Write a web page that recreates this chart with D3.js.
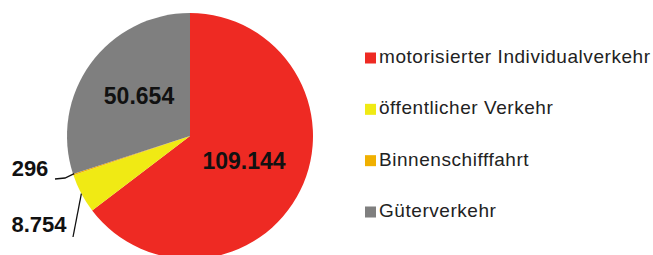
<!DOCTYPE html>
<html><head><meta charset="utf-8">
<script src="https://cdn.jsdelivr.net/npm/d3@7/dist/d3.min.js"></script>
<style>body{margin:0;background:#fff}svg{display:block}</style>
</head><body>
<script>
const categories = ["motorisierter Individualverkehr", "öffentlicher Verkehr", "Binnenschifffahrt", "Güterverkehr"];
const values = [109144, 8754, 296, 50654];
const valueLabels = ["109.144", "8.754", "296", "50.654"];
const colors = ["#ee2a23", "#f0ea14", "#f0b000", "#7f7f7f"];

const W = 653, H = 255;
const svg = d3.select("body").append("svg").attr("width", W).attr("height", H);
const cx = 190, cy = 136, R = 123;
const pie = d3.pie().sort(null).value(d => d)(values);
const arc = d3.arc().innerRadius(0).outerRadius(R);
const g = svg.append("g").attr("transform", `translate(${cx},${cy})`);
g.selectAll("path").data(pie).join("path").attr("d", arc).attr("fill", (d, i) => colors[i]);

const fontB = "Arial, 'Liberation Sans', sans-serif";
// inside labels
[0, 3].forEach(i => {
  const c = i === 0 ? [54, 27] : [-51, -38];
  g.append("text").attr("x", c[0]).attr("y", c[1]).attr("text-anchor", "middle")
    .attr("dominant-baseline", "middle").attr("font-family", fontB).attr("font-weight", "bold")
    .attr("font-size", 23).attr("fill", "#111").text(valueLabels[i]);
});
// outside labels with leaders
const edge = d3.arc().innerRadius(R).outerRadius(R);
const pOrange = edge.centroid(pie[2]);
const pYellow = edge.centroid(pie[1]);
svg.append("path").attr("d", d3.line()([[55, 179], [65, 178], [cx + pOrange[0] + 1, cy + pOrange[1] - 1]]))
  .attr("fill", "none").attr("stroke", "#111").attr("stroke-width", 1.3);
svg.append("path").attr("d", d3.line()([[73, 237], [cx + pYellow[0], cy + pYellow[1]]]))
  .attr("fill", "none").attr("stroke", "#111").attr("stroke-width", 1.3);
svg.append("text").attr("x", 30).attr("y", 170).attr("text-anchor", "middle").attr("dominant-baseline", "middle")
  .attr("font-family", fontB).attr("font-weight", "bold").attr("font-size", 22).attr("fill", "#111").text(valueLabels[2]);
svg.append("text").attr("x", 39).attr("y", 226).attr("text-anchor", "middle").attr("dominant-baseline", "middle")
  .attr("font-family", fontB).attr("font-weight", "bold").attr("font-size", 22).attr("fill", "#111").text(valueLabels[1]);

// legend
const ly = d3.scalePoint().domain(categories).range([58, 212]);
const lg = svg.append("g");
categories.forEach((c, i) => {
  lg.append("rect").attr("x", 365).attr("y", ly(c) - 5.5).attr("width", 11).attr("height", 11).attr("fill", colors[i]);
  lg.append("text").attr("x", 379).attr("y", ly(c)).attr("dominant-baseline", "middle")
    .attr("font-family", fontB).attr("font-size", 19).attr("letter-spacing", 0.55).attr("fill", "#222").text(c);
});
</script>
</body></html>
